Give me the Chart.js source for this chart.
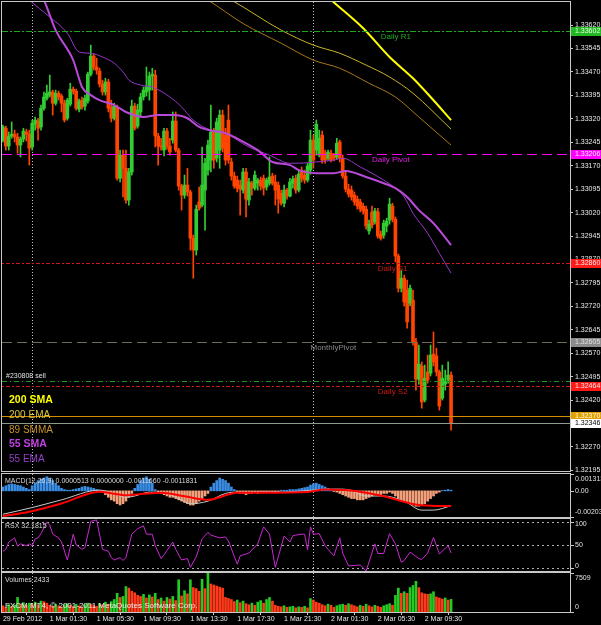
<!DOCTYPE html>
<html>
<head>
<meta charset="utf-8">
<script src="https://cdn.jsdelivr.net/npm/chart.js@4.4.1/dist/chart.umd.min.js"></script>
<style>
  html, body { margin: 0; padding: 0; background: #000; }
  #wrap { position: relative; width: 601px; height: 625px; background: #000; overflow: hidden; }
  canvas { position: absolute; left: 0; }
</style>
</head>
<body>
<div id="wrap">
  <canvas id="mainChart" width="601" height="472" style="top:0px"></canvas>
  <canvas id="macdChart" width="601" height="45" style="top:473px"></canvas>
  <canvas id="rsxChart" width="601" height="54" style="top:518px"></canvas>
  <canvas id="volChart" width="601" height="53" style="top:572px"></canvas>
</div>
<script>
// M15 bars, 29 Feb 2012 21:30 -> 2 Mar 2012 11:45
const openPrices = [
  1.33252,1.33290,1.33233,1.33265,1.33271,1.33262,1.33236,1.33255,1.33278,1.33271,
  1.33230,1.33303,1.33313,1.33294,1.33354,1.33386,1.33396,1.33406,1.33370,1.33402,
  1.33393,1.33370,1.33322,1.33367,1.33415,1.33409,1.33351,1.33380,1.33361,1.33377,
  1.33463,1.33521,1.33486,1.33473,1.33431,1.33406,1.33438,1.33358,1.33322,1.33358,
  1.33130,1.33204,1.33162,1.33060,1.33150,1.33361,1.33297,1.33342,1.33390,1.33406,
  1.33412,1.33457,1.33460,1.33265,1.33233,1.33220,1.33281,1.33233,1.33252,1.33313,
  1.33220,1.33105,1.33076,1.33108,1.33086,1.32938,1.32900,1.33054,1.33044,1.33092,
  1.33156,1.33188,1.33278,1.33194,1.33220,1.33332,1.33268,1.33316,1.33182,1.33137,
  1.33124,1.33108,1.33092,1.33150,1.33060,1.33114,1.33098,1.33114,1.33124,1.33130,
  1.33102,1.33114,1.33137,1.33118,1.33108,1.33082,1.33050,1.33092,1.33073,1.33114,
  1.33130,1.33092,1.33150,1.33140,1.33124,1.33156,1.33252,1.33220,1.33204,1.33268,
  1.33210,1.33194,1.33210,1.33204,1.33198,1.33246,1.33194,1.33137,1.33095,1.33092,
  1.33076,1.33063,1.33054,1.33041,1.33031,1.32961,1.33022,1.32990,1.33022,1.32951,
  1.32948,1.32977,1.32996,1.33041,1.32999,1.32881,1.32778,1.32810,1.32772,1.32730,
  1.32740,1.32606,1.32487,1.32529,1.32420,1.32510,1.32506,1.32567,1.32561,1.32510,
  1.32426,1.32471,1.32484,1.32500
];
const highPrices = [
  1.33300,1.33297,1.33278,1.33310,1.33284,1.33274,1.33262,1.33290,1.33287,1.33284,
  1.33316,1.33326,1.33322,1.33364,1.33406,1.33428,1.33460,1.33412,1.33412,1.33409,
  1.33399,1.33380,1.33386,1.33434,1.33422,1.33415,1.33383,1.33390,1.33396,1.33470,
  1.33556,1.33527,1.33514,1.33482,1.33444,1.33450,1.33447,1.33380,1.33370,1.33364,
  1.33220,1.33220,1.33220,1.33162,1.33380,1.33370,1.33367,1.33402,1.33422,1.33486,
  1.33470,1.33482,1.33476,1.33274,1.33258,1.33290,1.33290,1.33258,1.33342,1.33342,
  1.33226,1.33111,1.33140,1.33162,1.33092,1.32948,1.33044,1.33102,1.33230,1.33194,
  1.33252,1.33364,1.33290,1.33322,1.33348,1.33348,1.33290,1.33364,1.33194,1.33150,
  1.33137,1.33124,1.33162,1.33162,1.33130,1.33121,1.33153,1.33130,1.33134,1.33140,
  1.33130,1.33198,1.33146,1.33140,1.33118,1.33092,1.33108,1.33098,1.33130,1.33137,
  1.33140,1.33156,1.33166,1.33156,1.33178,1.33284,1.33268,1.33316,1.33284,1.33281,
  1.33220,1.33220,1.33220,1.33210,1.33258,1.33252,1.33204,1.33150,1.33111,1.33105,
  1.33086,1.33073,1.33063,1.33050,1.33041,1.32996,1.33041,1.33034,1.33034,1.32961,
  1.32996,1.33002,1.33066,1.33050,1.33006,1.32887,1.32836,1.32820,1.32804,1.32788,
  1.32772,1.32618,1.32596,1.32542,1.32532,1.32564,1.32596,1.32638,1.32586,1.32516,
  1.32532,1.32516,1.32542,1.32510
];
const lowPrices = [
  1.33246,1.33220,1.33220,1.33258,1.33246,1.33210,1.33198,1.33246,1.33249,1.33172,
  1.33220,1.33284,1.33252,1.33284,1.33348,1.33380,1.33390,1.33332,1.33364,1.33380,
  1.33342,1.33310,1.33316,1.33361,1.33399,1.33348,1.33342,1.33351,1.33348,1.33370,
  1.33457,1.33476,1.33463,1.33422,1.33396,1.33396,1.33342,1.33310,1.33316,1.33124,
  1.33118,1.33070,1.33050,1.33044,1.33140,1.33284,1.33290,1.33326,1.33380,1.33393,
  1.33380,1.33412,1.33230,1.33172,1.33220,1.33201,1.33223,1.33204,1.33242,1.33214,
  1.33092,1.33028,1.33066,1.33073,1.32900,1.32810,1.32884,1.33028,1.33038,1.32964,
  1.33140,1.33150,1.33162,1.33182,1.33162,1.33214,1.33172,1.33178,1.33124,1.33098,
  1.33086,1.33012,1.33082,1.33006,1.33044,1.33076,1.33092,1.33092,1.33092,1.33076,
  1.33092,1.33108,1.33108,1.33044,1.33018,1.33044,1.33038,1.33063,1.33070,1.33098,
  1.33082,1.33086,1.33118,1.33114,1.33118,1.33143,1.33162,1.33204,1.33198,1.33178,
  1.33178,1.33188,1.33182,1.33185,1.33191,1.33182,1.33130,1.33086,1.33070,1.33060,
  1.33044,1.33031,1.33022,1.33015,1.32967,1.32951,1.32970,1.32983,1.32938,1.32932,
  1.32938,1.32958,1.32983,1.32990,1.32862,1.32766,1.32766,1.32721,1.32650,1.32721,
  1.32596,1.32452,1.32471,1.32394,1.32414,1.32474,1.32497,1.32529,1.32497,1.32388,
  1.32420,1.32452,1.32474,1.32324
];
const closePrices = [
  1.33294,1.33233,1.33265,1.33271,1.33262,1.33236,1.33255,1.33281,1.33271,1.33226,
  1.33306,1.33316,1.33290,1.33354,1.33390,1.33402,1.33406,1.33370,1.33402,1.33390,
  1.33370,1.33316,1.33380,1.33415,1.33409,1.33354,1.33377,1.33358,1.33386,1.33463,
  1.33521,1.33486,1.33476,1.33431,1.33406,1.33438,1.33354,1.33322,1.33361,1.33130,
  1.33204,1.33162,1.33060,1.33150,1.33361,1.33290,1.33348,1.33390,1.33412,1.33422,
  1.33457,1.33463,1.33265,1.33233,1.33230,1.33281,1.33233,1.33214,1.33313,1.33220,
  1.33105,1.33076,1.33108,1.33086,1.32938,1.32900,1.33031,1.33034,1.33108,1.33178,
  1.33236,1.33278,1.33188,1.33310,1.33332,1.33226,1.33188,1.33188,1.33137,1.33105,
  1.33098,1.33095,1.33150,1.33063,1.33118,1.33098,1.33140,1.33124,1.33105,1.33098,
  1.33124,1.33134,1.33114,1.33092,1.33063,1.33050,1.33092,1.33073,1.33118,1.33127,
  1.33092,1.33143,1.33130,1.33124,1.33169,1.33252,1.33188,1.33303,1.33258,1.33188,
  1.33188,1.33214,1.33188,1.33194,1.33242,1.33194,1.33137,1.33095,1.33079,1.33070,
  1.33054,1.33041,1.33031,1.33025,1.32977,1.32983,1.32980,1.33025,1.32945,1.32938,
  1.32986,1.32993,1.33047,1.32999,1.32881,1.32778,1.32810,1.32734,1.32670,1.32778,
  1.32606,1.32487,1.32535,1.32414,1.32490,1.32484,1.32564,1.32542,1.32510,1.32401,
  1.32490,1.32481,1.32500,1.32346
];
const volumes = [
  1200,900,1400,1100,1300,2800,1500,1800,1300,1700,
  1500,1900,1400,2100,2000,1700,1300,1100,1500,1200,
  1000,1400,1600,1300,1100,1500,1200,1000,1400,1700,
  1500,1300,1100,1600,1400,1900,1500,2000,2400,3600,
  2800,3000,4900,4600,4000,3700,3200,3000,3400,2700,
  3300,2900,3600,2400,2700,2100,2800,2500,3000,2200,
  6200,3100,4100,3500,6200,4700,4500,4000,6300,4500,
  7509,5400,5200,5000,4800,4600,2800,2600,2400,2000,
  2300,1800,2100,1600,1400,1700,1300,1900,2200,1700,
  2400,2800,2100,1300,1100,1000,1200,900,1000,1100,
  800,1000,900,1100,800,2600,2300,1900,1700,1400,
  1200,1500,1300,900,1200,1400,1500,1300,1600,1400,
  1200,1000,1300,1100,1500,1200,1000,1300,1100,900,
  1200,1400,1600,1300,3200,4600,3600,3900,3600,4700,
  5100,5900,4700,3700,3500,3400,3500,3900,2900,2700,
  2500,2700,2300,2433
];

// moving averages: [bar index, value]
const sma200 = [[104,1.33770],[112,1.33701],[123,1.33610],[132,1.33518],[140,1.33450],[146,1.33390],[153,1.33316]];
const ema200 = [[67,1.33751],[78,1.33700],[95,1.33604],[106,1.33556],[115,1.33530],[124,1.33492],[132,1.33454],[140,1.33402],[153,1.33287]];
const smma89 = [[60,1.33750],[70,1.33700],[82,1.33625],[95,1.33562],[106,1.33508],[115,1.33482],[125,1.33434],[134,1.33390],[142,1.33326],[153,1.33236]];
const sma55 = [[10,1.33764],[14,1.33700],[18,1.33604],[24,1.33508],[27,1.33422],[30,1.33396],[33,1.33380],[38,1.33364],[42,1.33342],[48,1.33326],[53,1.33332],[58,1.33332],[63,1.33322],[67,1.33294],[72,1.33281],[76,1.33274],[81,1.33252],[87,1.33220],[92,1.33182],[98,1.33172],[101,1.33156],[107,1.33146],[113,1.33146],[117,1.33153],[124,1.33134],[130,1.33114],[134,1.33098],[138,1.33070],[142,1.33028],[147,1.32986],[153,1.32916]];
const ema55 = [[0,1.33780],[9,1.33700],[16,1.33646],[22,1.33594],[26,1.33534],[30,1.33530],[34,1.33518],[38,1.33498],[41,1.33470],[43,1.33444],[47,1.33428],[51,1.33422],[57,1.33390],[61,1.33358],[65,1.33316],[71,1.33284],[75,1.33278],[84,1.33230],[91,1.33204],[98,1.33178],[101,1.33178],[107,1.33182],[113,1.33188],[116,1.33194],[122,1.33166],[130,1.33124],[134,1.33098],[137,1.33070],[140,1.33018],[145,1.32954],[149,1.32890],[153,1.32826]];

// MACD
const macdHist = [
  0.0003,0.0004,0.0005,0.00055,0.0005,0.00045,0.0004,0.0003,0.0002,0.0001,
  0.0004,0.0006,0.0008,0.0009,0.0010,0.0011,0.0010,0.0008,0.0006,0.0004,
  0.0002,0.0001,0.00005,0.00005,0.0001,0.00015,0.0002,0.0003,0.00035,0.0003,
  0.00025,0.0002,0.0001,0.00005,-0.0001,-0.0003,-0.0005,-0.0007,-0.0008,-0.0010,
  -0.0011,-0.0010,-0.0008,-0.0005,-0.0002,0.0002,0.0005,0.0008,0.0010,0.0011,
  0.0009,0.0006,0.0001,-0.0001,-0.0002,-0.0003,-0.0004,-0.0005,-0.0005,-0.0006,
  -0.0007,-0.0008,-0.0009,-0.0010,-0.0011,-0.0011,-0.0010,-0.0008,-0.0006,-0.0004,
  -0.0002,0.0003,0.0006,0.0008,0.0010,0.0009,0.0008,0.0006,0.0003,0.0001,
  -0.0001,-0.0002,-0.0002,-0.0003,-0.0002,-0.0002,-0.0001,-0.0002,-0.0001,-0.0001,
  -0.0001,-0.00005,-0.0001,-0.0001,-0.00005,0.00005,0.00005,0.00005,0.0001,0.0001,
  0.0001,0.00015,0.0002,0.00025,0.0003,0.00045,0.00055,0.0006,0.0005,0.0004,
  0.0003,0.0002,0.0001,-0.00005,-0.0001,-0.0002,-0.0003,-0.0004,-0.0005,-0.0006,
  -0.0006,-0.0007,-0.0007,-0.0007,-0.0006,-0.0005,-0.0004,-0.0003,-0.0003,-0.0003,
  -0.0002,-0.0002,-0.0001,-0.0002,-0.0004,-0.0006,-0.0007,-0.0008,-0.0009,-0.0010,
  -0.0011,-0.0012,-0.0012,-0.0011,-0.0010,-0.0008,-0.0006,-0.0004,-0.0002,-0.0001,
  0.00003,0.00005,0.0001,0.0000513
];
const macdMain = [[0,-0.00182],[10,-0.0013],[20,-0.0007],[33,0.00006],[38,-0.0002],[42,-0.0005],[45,-0.0004],[50,-0.0001],[54,-0.0001],[60,-0.0006],[64,-0.0010],[70,-0.0008],[76,-0.0002],[80,-0.0001],[90,-0.0001],[100,-0.00005],[108,0.0001],[114,0.00014],[118,0.0001],[124,-0.0004],[130,-0.0004],[137,-0.0008],[143,-0.0015],[147,-0.0015],[153,-0.001166]];
const macdSignal = [[0,-0.00196],[9,-0.00162],[20,-0.00098],[33,-0.00006],[42,-0.00034],[48,-0.00022],[54,-0.00014],[62,-0.00042],[70,-0.0007],[80,-0.00014],[91,-0.00014],[104,-0.00008],[110,0.00011],[117,0.00006],[124,-0.00014],[130,-0.00042],[143,-0.00112],[153,-0.001183]];

// RSX
const rsxPoints = [[0,36],[1,40],[2,56],[4,65],[5,47],[6,52],[8,48],[9,52],[10,48],[11,63],[12,65],[13,74],[15,99],[16,93],[17,73],[19,65],[20,56],[22,17],[24,73],[25,50],[27,40],[28,44],[30,101],[32,104],[34,40],[36,36],[37,22],[38,17],[40,22],[41,16],[42,22],[44,73],[46,85],[48,91],[49,73],[51,73],[52,48],[54,20],[55,28],[58,56],[59,40],[61,17],[63,20],[64,1],[66,24],[68,63],[70,77],[71,71],[72,69],[74,65],[76,67],[77,58],[80,8],[81,26],[84,32],[87,52],[89,89],[91,73],[93,1],[96,69],[98,56],[99,70],[102,73],[103,73],[104,39],[105,89],[106,73],[108,74],[110,48],[111,40],[113,26],[115,65],[116,32],[118,4],[122,6],[124,-7],[127,52],[128,31],[130,31],[132,74],[134,52],[136,12],[137,16],[139,34],[142,20],[143,18],[145,32],[147,66],[149,30],[152,48],[153,32.1815]];

// axes
const priceTicks = [1.33620,1.33545,1.33470,1.33395,1.33320,1.33245,1.33170,1.33095,1.33020,1.32945,1.32870,1.32795,1.32720,1.32645,1.32570,1.32495,1.32420,1.32345,1.32270,1.32195];
const timeTickIndex = [0,16,32,48,64,80,96,112,128,144];
const timeTickLabels = ["29 Feb 2012","1 Mar 01:30","1 Mar 05:30","1 Mar 09:30","1 Mar 13:30","1 Mar 17:30","1 Mar 21:30","2 Mar 01:30","2 Mar 05:30","2 Mar 09:30"];
const daySeparators = [10, 106];
const macdTicks = [0.001313, 0, -0.002035];
const macdTickLabels = ["0.001313", "0.00", "-0.002035"];
const rsxLevels = [100, 50, 0];
const volTicks = [7509, 0];

// pivot levels and price lines
const levelNames = ["Daily R1", "Daily Pivot", "Daily S1", "MonthlyPivot", "Daily S2"];
const levelValues = [1.33602, 1.33206, 1.32860, 1.32605, 1.32464];
const orderPrice = 1.32480;
const orderText = "#230808 sell";
const orangeLine = 1.32370;
const bidPrice = 1.32346;
const maNames = ["200 SMA", "200 EMA", "89 SMMA", "55 SMA", "55 EMA"];

// ---------------------------------------------------------------
const FONT = '"Liberation Sans", Arial, sans-serif';
const X_MIN = -0.31, X_MAX = 193.6;
const UP = '#32cd32', DOWN = '#ff4500';
const FRAME = '#c8c8c8';

const levelStyle = [
  { color: '#1fa81f', dash: [6, 2, 2, 2], text: '#1fa81f', at: 129, box: '#22b822', boxText: '#e8ffe8' },
  { color: '#ff00ff', dash: [10, 5], text: '#e020e0', at: 126, box: '#ff00ff', boxText: '#ffe8ff' },
  { color: '#d01818', dash: [2, 2, 4, 2], text: '#d01818', at: 128, box: '#ff1a1a', boxText: '#ffe8e8' },
  { color: '#6e6e58', dash: [10, 5], text: '#868686', at: 105, box: '#8a8a8a', boxText: '#e0e0e0' },
  { color: '#d01818', dash: [2, 2, 4, 2], text: '#d01818', at: 128, box: '#ff1a1a', boxText: '#ffe8e8' }
];
const maStyle = [
  { color: '#ffff00', width: 2, font: 'bold 10.5px ' + FONT, text: '#ffff00', y: 400 },
  { color: '#c8b428', width: 1, font: '10px ' + FONT, text: '#d8c43c', y: 415 },
  { color: '#a8761c', width: 1, font: '10px ' + FONT, text: '#c8922a', y: 430 },
  { color: '#b84ad8', width: 2, font: 'bold 10.5px ' + FONT, text: '#c040e0', y: 444 },
  { color: '#9636c8', width: 1, font: '10px ' + FONT, text: '#9440c8', y: 459 }
];

const px = (chart, i) => chart.scales.x.getPixelForValue(i);

function drawFrame(chart) {
  const a = chart.chartArea, c = chart.ctx;
  c.save();
  c.strokeStyle = FRAME; c.lineWidth = 1;
  c.strokeRect(Math.round(a.left) - 0.5, Math.round(a.top) - 0.5, Math.round(a.right - a.left) + 1, Math.round(a.bottom - a.top) + 1);
  c.restore();
}

function drawSeparators(chart) {
  const a = chart.chartArea, c = chart.ctx;
  c.save();
  c.strokeStyle = '#c0c0c0'; c.lineWidth = 1; c.setLineDash([1, 2]);
  daySeparators.forEach(i => {
    const x = Math.round(px(chart, i)) + 0.5;
    c.beginPath(); c.moveTo(x, a.top); c.lineTo(x, a.bottom); c.stroke();
  });
  c.restore();
}

function hLine(chart, v, color, dash) {
  const a = chart.chartArea, c = chart.ctx;
  const y = Math.round(chart.scales.y.getPixelForValue(v)) + 0.5;
  c.save();
  c.strokeStyle = color; c.lineWidth = 1; c.setLineDash(dash);
  c.beginPath(); c.moveTo(a.left, y); c.lineTo(a.right, y); c.stroke();
  c.restore();
}

function priceBox(chart, v, bg, fg) {
  const c = chart.ctx;
  const y = Math.round(chart.scales.y.getPixelForValue(v));
  c.save();
  c.fillStyle = bg; c.fillRect(571, y - 4, 30, 9);
  c.fillStyle = fg; c.font = '7px ' + FONT; c.textBaseline = 'middle';
  c.fillText(v.toFixed(5), 575, y + 0.5);
  c.restore();
}

const mainDecor = {
  id: 'mainDecor',
  beforeDatasetsDraw(chart) { drawSeparators(chart); },
  afterDatasetsDraw(chart) {
    const c = chart.ctx, ys = chart.scales.y;
    levelValues.forEach((v, k) => hLine(chart, v, levelStyle[k].color, levelStyle[k].dash));
    hLine(chart, orderPrice, '#1a9a1a', [5, 3, 1, 3]);
    hLine(chart, orangeLine, '#d68a00', []);
    hLine(chart, bidPrice, '#8c9a8c', []);
    c.save();
    c.font = '8px ' + FONT; c.textBaseline = 'top';
    levelNames.forEach((n, k) => {
      c.fillStyle = levelStyle[k].text;
      c.fillText(n, px(chart, levelStyle[k].at), Math.round(ys.getPixelForValue(levelValues[k])) + 2);
    });
    c.textBaseline = 'middle';
    c.font = '7px ' + FONT; c.fillStyle = '#e0e0e0';
    c.fillText(orderText, 6, 376);
    maNames.forEach((n, k) => {
      c.font = maStyle[k].font; c.fillStyle = maStyle[k].text;
      c.fillText(n, 9, maStyle[k].y);
    });
    c.restore();
  },
  afterDraw(chart) {
    drawFrame(chart);
    levelValues.forEach((v, k) => priceBox(chart, v, levelStyle[k].box, levelStyle[k].boxText));
    priceBox(chart, orangeLine, '#e0a000', '#fff8e0');
    priceBox(chart, bidPrice, '#ffffff', '#000000');
  }
};

const subDecor = {
  id: 'subDecor',
  beforeDatasetsDraw(chart, args, o) {
    drawSeparators(chart);
    if (o.levels) {
      const a = chart.chartArea, c = chart.ctx;
      c.save(); c.strokeStyle = '#b0b0b0'; c.setLineDash([2, 3]);
      o.levels.forEach(v => {
        const y = Math.round(chart.scales.y.getPixelForValue(v)) + 0.5;
        c.beginPath(); c.moveTo(a.left, y); c.lineTo(a.right, y); c.stroke();
      });
      c.restore();
    }
  },
  afterDraw(chart, args, o) {
    const a = chart.chartArea, c = chart.ctx;
    drawFrame(chart);
    c.save();
    c.font = '7px ' + FONT; c.fillStyle = '#d8d8d8'; c.textBaseline = 'middle';
    c.fillText(o.title, 5, a.top + 7);
    if (o.footer) { c.font = '8px ' + FONT; c.fillStyle = '#e8e8e8'; c.fillText(o.footer, 5, a.bottom - 6); }
    c.font = '7px ' + FONT; c.strokeStyle = FRAME;
    o.ticks.forEach((v, k) => {
      const y = chart.scales.y.getPixelForValue(v);
      const ty = Math.min(Math.max(y, a.top + 5), a.bottom - 5);
      c.beginPath(); c.moveTo(a.right + 1, Math.round(y) + 0.5); c.lineTo(a.right + 4, Math.round(y) + 0.5); c.stroke();
      c.fillStyle = '#e0e0e0';
      c.fillText(o.labels ? o.labels[k] : String(v), a.right + 5, ty);
    });
    c.restore();
  }
};

const xAxis = { type: 'linear', min: X_MIN, max: X_MAX, offset: false, display: false };
const baseOptions = {
  responsive: false, animation: false, events: [],
  plugins: { legend: { display: false }, tooltip: { enabled: false } }
};

const toXY = pts => pts.map(([i, v]) => ({ x: i, y: v }));
const barColors = closePrices.map((c, i) => c >= openPrices[i] ? UP : DOWN);

// ---------------- main price chart ----------------
const maSeries = [sma200, ema200, smma89, sma55, ema55];
new Chart(document.getElementById('mainChart'), {
  type: 'bar',
  data: {
    datasets: [
      {
        label: 'wick', grouped: false, barThickness: 1, order: 2,
        data: closePrices.map((c, i) => ({ x: i, y: [lowPrices[i], highPrices[i]] })),
        backgroundColor: barColors
      },
      {
        label: 'body', grouped: false, barThickness: 3, minBarLength: 1, order: 1,
        data: closePrices.map((c, i) => ({ x: i, y: [openPrices[i], c] })),
        backgroundColor: barColors
      },
      ...maSeries.map((s, k) => ({
        type: 'line', label: maNames[k], data: toXY(s), order: 0,
        borderColor: maStyle[k].color, borderWidth: maStyle[k].width,
        pointRadius: 0, cubicInterpolationMode: 'monotone'
      }))
    ]
  },
  options: {
    ...baseOptions,
    layout: { padding: { left: 2, top: 2, bottom: 1, right: 0 } },
    scales: {
      x: xAxis,
      y: {
        position: 'right', min: 1.32193, max: 1.33694,
        afterFit(s) { s.width = 31; s.paddingTop = 0; s.paddingBottom = 0; },
        afterBuildTicks(s) { s.ticks = priceTicks.map(v => ({ value: v })); },
        ticks: { color: '#e8e8e8', font: { family: FONT, size: 7 }, padding: 2, autoSkip: false, callback: v => v.toFixed(5) },
        grid: { drawOnChartArea: false, color: FRAME, tickLength: 3 },
        border: { display: false }
      }
    }
  },
  plugins: [mainDecor]
});

// ---------------- MACD ----------------
new Chart(document.getElementById('macdChart'), {
  type: 'bar',
  data: {
    datasets: [
      {
        label: 'hist', grouped: false, barThickness: 2, order: 2,
        data: macdHist.map((h, i) => ({ x: i, y: h })),
        backgroundColor: macdHist.map(h => h >= 0 ? '#3a8ee6' : '#f4a07a')
      },
      { type: 'line', label: 'main', data: toXY(macdMain), borderColor: '#c8c8c8', borderWidth: 1, pointRadius: 0, order: 1, cubicInterpolationMode: 'monotone' },
      { type: 'line', label: 'signal', data: toXY(macdSignal), borderColor: '#ff0000', borderWidth: 2, pointRadius: 0, order: 0, cubicInterpolationMode: 'monotone' }
    ]
  },
  options: {
    ...baseOptions,
    layout: { padding: { left: 2, top: 1, bottom: 1, right: 31 } },
    scales: { x: xAxis, y: { display: false, min: -0.002035, max: 0.001313 } },
    plugins: {
      ...baseOptions.plugins,
      subDecor: { title: 'MACD(12,26,9) 0.0000513 0.0000000 -0.0011660 -0.0011831', ticks: macdTicks, labels: macdTickLabels }
    }
  },
  plugins: [subDecor]
});

// ---------------- RSX ----------------
new Chart(document.getElementById('rsxChart'), {
  type: 'line',
  data: {
    datasets: [
      { label: 'RSX', data: toXY(rsxPoints), borderColor: '#c828d0', borderWidth: 1, pointRadius: 0, tension: 0 }
    ]
  },
  options: {
    ...baseOptions,
    layout: { padding: { left: 2, top: 1, bottom: 1, right: 31 } },
    scales: { x: xAxis, y: { display: false, min: -7, max: 106 } },
    plugins: {
      ...baseOptions.plugins,
      subDecor: { title: 'RSX 32.1815', ticks: rsxLevels, levels: rsxLevels }
    }
  },
  plugins: [subDecor]
});

// ---------------- Volumes ----------------
new Chart(document.getElementById('volChart'), {
  type: 'bar',
  data: {
    datasets: [
      {
        label: 'Volumes', barThickness: 2,
        data: volumes.map((v, i) => ({ x: i, y: v })),
        backgroundColor: volumes.map((v, i) => i > 0 && v > volumes[i - 1] ? '#22cc22' : '#ff3a1a')
      }
    ]
  },
  options: {
    ...baseOptions,
    layout: { padding: { left: 2, top: 1, bottom: 0, right: 31 } },
    scales: {
      x: {
        type: 'linear', min: X_MIN, max: X_MAX, offset: false,
        afterFit(s) { s.height = 13; s.paddingLeft = 0; s.paddingRight = 0; },
        afterBuildTicks(s) { s.ticks = timeTickIndex.map(v => ({ value: v })); },
        ticks: {
          color: '#e8e8e8', font: { family: FONT, size: 7 }, padding: 0, align: 'start',
          maxRotation: 0, autoSkip: false,
          callback: v => timeTickLabels[timeTickIndex.indexOf(v)]
        },
        grid: { drawOnChartArea: false, color: FRAME, tickLength: 3 },
        border: { display: false }
      },
      y: { display: false, min: 0, max: 7509 }
    },
    plugins: {
      ...baseOptions.plugins,
      subDecor: { title: 'Volumes 2433', footer: 'FXCM MT4, \u00a9 2001-2011 MetaQuotes Software Corp.', ticks: volTicks }
    }
  },
  plugins: [subDecor]
});
</script>
</body>
</html>
